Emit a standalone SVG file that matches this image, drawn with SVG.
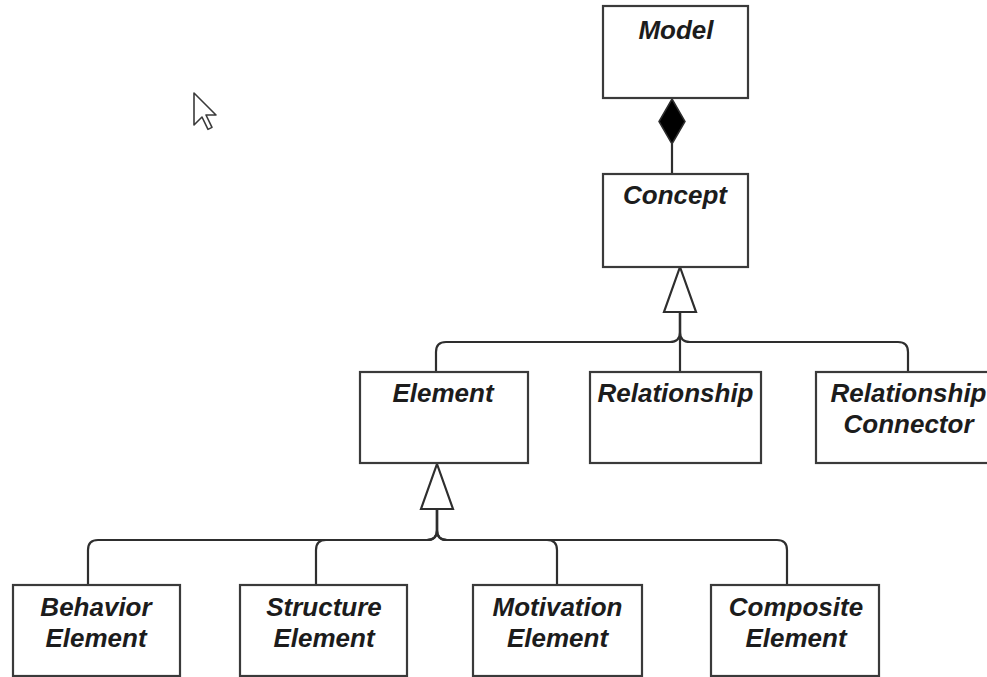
<svg xmlns="http://www.w3.org/2000/svg" width="987" height="677" viewBox="0 0 987 677">
  <style>
    .box { fill: #ffffff; stroke: #3a3a3a; stroke-width: 2.2; }
    .lbl { font-family: "Liberation Sans", Arial, sans-serif; font-size: 26px; font-weight: bold; font-style: italic; fill: #1c1c1c; text-anchor: middle; }
    .wire { fill: none; stroke: #2e2e2e; stroke-width: 2.2; }
    .gen { fill: #ffffff; stroke: #2e2e2e; stroke-width: 2.2; stroke-linejoin: miter; }
    .comp { fill: #000000; stroke: #2e2e2e; stroke-width: 1.5; }
  </style>
  <rect width="987" height="677" fill="#ffffff"/>

  <!-- mouse pointer -->
  <g id="pointer" transform="translate(194,93) scale(2)">
    <polygon points="0,0 0,16 4,12 7,18.2 9,17.2 6,11 11,11" fill="#ffffff" stroke="#3a3a3a" stroke-width="0.8" stroke-linejoin="round"/>
  </g>

  <!-- connectors -->
  <g id="connectors">
    <!-- composition Model <>- Concept -->
    <line class="wire" x1="672" y1="144" x2="672" y2="174"/>
    <polygon class="comp" points="672,99 685,121.5 672,144 659,121.5"/>

    <!-- generalization: Element / Relationship / Relationship Connector -> Concept -->
    <path class="wire" d="M680,312 V332 Q680,342 670,342 H446 Q436,342 436,352 V372"/>
    <path class="wire" d="M680,312 V372"/>
    <path class="wire" d="M680,312 V332 Q680,342 690,342 H898 Q908,342 908,352 V372"/>
    <polygon class="gen" points="680,267 696,312 664,312"/>

    <!-- generalization: element kinds -> Element -->
    <path class="wire" d="M437,509 V530 Q437,540 427,540 H98 Q88,540 88,550 V585"/>
    <path class="wire" d="M437,509 V530 Q437,540 427,540 H326 Q316,540 316,550 V585"/>
    <path class="wire" d="M437,509 V530 Q437,540 447,540 H547 Q557,540 557,550 V585"/>
    <path class="wire" d="M437,509 V530 Q437,540 447,540 H777 Q787,540 787,550 V585"/>
    <polygon class="gen" points="437,464 453,509 421,509"/>
  </g>

  <!-- nodes -->
  <g id="model">
    <rect class="box" x="603" y="6" width="145" height="92"/>
    <text class="lbl" x="676" y="39">Model</text>
  </g>
  <g id="concept">
    <rect class="box" x="603" y="174" width="145" height="93"/>
    <text class="lbl" x="675" y="204">Concept</text>
  </g>
  <g id="element">
    <rect class="box" x="360" y="372" width="168" height="91"/>
    <text class="lbl" x="443" y="402">Element</text>
  </g>
  <g id="relationship">
    <rect class="box" x="590" y="372" width="171" height="91"/>
    <text class="lbl" x="675.5" y="402">Relationship</text>
  </g>
  <g id="relationship-connector">
    <rect class="box" x="816" y="372" width="186" height="91"/>
    <text class="lbl" x="908.5" y="402">Relationship</text>
    <text class="lbl" x="908.5" y="433">Connector</text>
  </g>
  <g id="behavior-element">
    <rect class="box" x="13" y="585" width="167" height="91"/>
    <text class="lbl" x="96" y="616">Behavior</text>
    <text class="lbl" x="96" y="647">Element</text>
  </g>
  <g id="structure-element">
    <rect class="box" x="240" y="585" width="167" height="91"/>
    <text class="lbl" x="324" y="616">Structure</text>
    <text class="lbl" x="324" y="647">Element</text>
  </g>
  <g id="motivation-element">
    <rect class="box" x="473" y="585" width="169" height="91"/>
    <text class="lbl" x="557.5" y="616">Motivation</text>
    <text class="lbl" x="557.5" y="647">Element</text>
  </g>
  <g id="composite-element">
    <rect class="box" x="711" y="585" width="168" height="91"/>
    <text class="lbl" x="796" y="616">Composite</text>
    <text class="lbl" x="796" y="647">Element</text>
  </g>
</svg>
